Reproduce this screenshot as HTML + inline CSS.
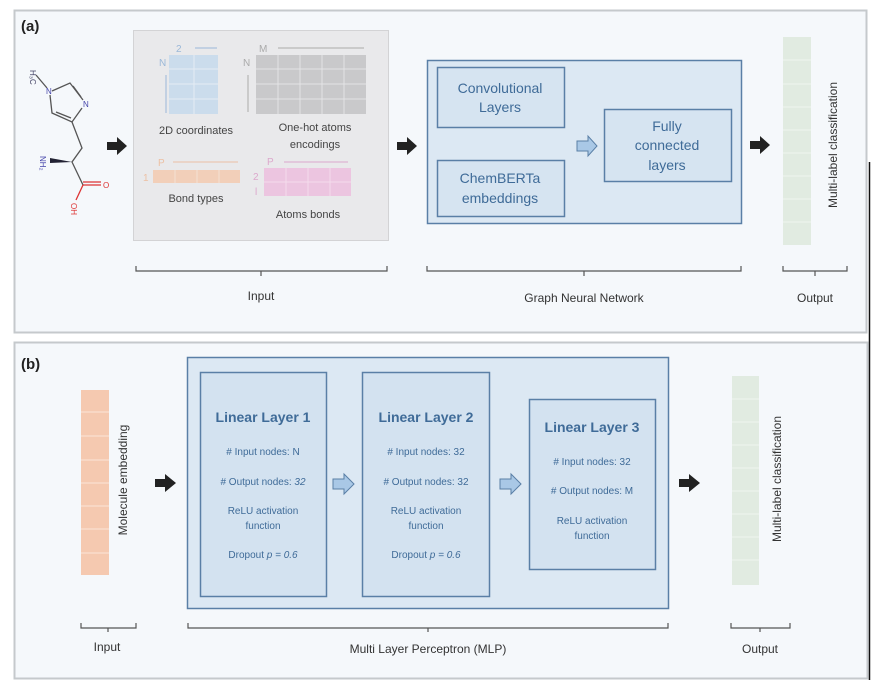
<!DOCTYPE html>
<html><head><meta charset="utf-8"><style>
body{margin:0;background:#fff;}
svg{display:block;font-family:"Liberation Sans",sans-serif;}
</style></head><body>
<svg width="890" height="693" viewBox="0 0 890 693" xmlns="http://www.w3.org/2000/svg">
<!-- panels -->
<rect x="14.5" y="10.5" width="852" height="322" fill="#f5f8fb" stroke="#c5c9cc" stroke-width="2"/>
<rect x="14.5" y="342.5" width="853" height="336" fill="#f5f8fb" stroke="#c5c9cc" stroke-width="2"/>
<line x1="869.5" y1="162" x2="869.5" y2="680" stroke="#111" stroke-width="1.5"/>
<text x="21" y="31" font-size="15" font-weight="bold" fill="#222">(a)</text>
<text x="21" y="369" font-size="15" font-weight="bold" fill="#222">(b)</text>
<!-- molecule -->
<g stroke="#555" stroke-width="1.3" fill="none">
<line x1="36" y1="75" x2="47" y2="88"/>
<polyline points="52,91 70,83 83,100"/>
<line x1="73" y1="86" x2="81" y2="97" />
<polyline points="82,108 72,122 52,113 50,95"/>
<line x1="56" y1="112" x2="71" y2="118"/>
<polyline points="72,122 82,148 72,162 83,185"/>
</g>
<polygon points="72,162 50,158 50,163" fill="#223"/>
<g stroke="#d33" stroke-width="1.3"><line x1="83" y1="185" x2="101" y2="185"/><line x1="83" y1="182" x2="101" y2="182"/><line x1="83" y1="185" x2="76" y2="200"/></g>
<g font-size="8" fill="#446">
<text x="30" y="70" transform="rotate(90 30 70)">H₃C</text>
<text x="46" y="94" fill="#44a">N</text><text x="83" y="107" fill="#44a">N</text>
<text x="40" y="156" transform="rotate(90 40 156)" fill="#44a">NH₂</text>
</g>
<text x="103" y="188" font-size="8" fill="#d33">O</text>
<text x="71" y="203" font-size="8" fill="#d33" transform="rotate(90 71 203)">OH</text>
<!-- input box -->
<rect x="133.5" y="30.5" width="255" height="210" fill="#e9e9eb" stroke="#d3d3d5"/>
<g font-size="11" fill="#444" text-anchor="middle">
<text x="196" y="134">2D coordinates</text>
<text x="315" y="131">One-hot atoms</text><text x="315" y="148">encodings</text>
<text x="196" y="202">Bond types</text>
<text x="308" y="218">Atoms bonds</text>
</g>
<rect x="169" y="55" width="49" height="59" fill="#cbdcec"/>
<g stroke="#e4ecf4" stroke-width="1"><line x1="194" y1="55" x2="194" y2="114"/><line x1="169" y1="69" x2="218" y2="69"/><line x1="169" y1="84" x2="218" y2="84"/><line x1="169" y1="99" x2="218" y2="99"/></g>
<text x="176" y="52" font-size="10" fill="#9bb8d8">2</text><line x1="195" y1="48" x2="217" y2="48" stroke="#9bb8d8"/>
<text x="159" y="66" font-size="10" fill="#9bb8d8">N</text><line x1="166" y1="75" x2="166" y2="113" stroke="#9bb8d8"/>
<rect x="256" y="55" width="110" height="59" fill="#c9c9cb"/>
<g stroke="#e4e4e6"><line x1="278" y1="55" x2="278" y2="114"/><line x1="300" y1="55" x2="300" y2="114"/><line x1="322" y1="55" x2="322" y2="114"/><line x1="344" y1="55" x2="344" y2="114"/><line x1="256" y1="69" x2="366" y2="69"/><line x1="256" y1="84" x2="366" y2="84"/><line x1="256" y1="99" x2="366" y2="99"/></g>
<text x="259" y="52" font-size="10" fill="#aaa">M</text><line x1="278" y1="48" x2="364" y2="48" stroke="#aaa"/>
<text x="243" y="66" font-size="10" fill="#aaa">N</text><line x1="248" y1="75" x2="248" y2="112" stroke="#aaa"/>
<rect x="153" y="170" width="87" height="13" fill="#f2cfb9"/>
<g stroke="#f4e0d3"><line x1="175" y1="170" x2="175" y2="183"/><line x1="197" y1="170" x2="197" y2="183"/><line x1="219" y1="170" x2="219" y2="183"/></g>
<text x="158" y="166" font-size="10" fill="#ecc0a4">P</text><line x1="173" y1="162" x2="238" y2="162" stroke="#ecc0a4"/>
<text x="143" y="181" font-size="10" fill="#ecc0a4">1</text>
<rect x="264" y="168" width="87" height="28" fill="#ecc5e0"/>
<g stroke="#f4dcec"><line x1="286" y1="168" x2="286" y2="196"/><line x1="308" y1="168" x2="308" y2="196"/><line x1="330" y1="168" x2="330" y2="196"/><line x1="264" y1="182" x2="351" y2="182"/></g>
<text x="267" y="165" font-size="10" fill="#dca8cc">P</text><line x1="284" y1="162" x2="348" y2="162" stroke="#dca8cc"/>
<text x="253" y="180" font-size="10" fill="#dca8cc">2</text><text x="255" y="195" font-size="10" fill="#dca8cc">l</text>
<!-- GNN -->
<rect x="427.5" y="60.5" width="314" height="163" fill="#dce8f3" stroke="#5a7fa6" stroke-width="1.5"/>
<rect x="437.5" y="67.5" width="127" height="60" fill="#d6e4f1" stroke="#5a7fa6" stroke-width="1.5"/>
<rect x="437.5" y="160.5" width="127" height="56" fill="#d6e4f1" stroke="#5a7fa6" stroke-width="1.5"/>
<rect x="604.5" y="109.5" width="127" height="72" fill="#d6e4f1" stroke="#5a7fa6" stroke-width="1.5"/>
<g font-size="14" fill="#3f6b98" text-anchor="middle">
<text x="500" y="93">Convolutional</text><text x="500" y="112">Layers</text>
<text x="500" y="183">ChemBERTa</text><text x="500" y="203">embeddings</text>
<text x="667" y="131">Fully</text><text x="667" y="150">connected</text><text x="667" y="170">layers</text>
</g>
<!-- output a -->
<rect x="783" y="37" width="28" height="208" fill="#e1ebe1"/>
<g stroke="#f0f5f0"><line x1="783" y1="60" x2="811" y2="60"/><line x1="783" y1="84" x2="811" y2="84"/><line x1="783" y1="107" x2="811" y2="107"/><line x1="783" y1="130" x2="811" y2="130"/><line x1="783" y1="153" x2="811" y2="153"/><line x1="783" y1="176" x2="811" y2="176"/><line x1="783" y1="199" x2="811" y2="199"/><line x1="783" y1="222" x2="811" y2="222"/></g>
<text x="837" y="145" font-size="12" fill="#333" text-anchor="middle" transform="rotate(-90 837 145)">Multi-label classification</text>
<!-- panel b content -->
<rect x="81" y="390" width="28" height="185" fill="#f5c9b0"/>
<g stroke="#fbe5d8"><line x1="81" y1="412" x2="109" y2="412"/><line x1="81" y1="436" x2="109" y2="436"/><line x1="81" y1="460" x2="109" y2="460"/><line x1="81" y1="483" x2="109" y2="483"/><line x1="81" y1="506" x2="109" y2="506"/><line x1="81" y1="529" x2="109" y2="529"/><line x1="81" y1="553" x2="109" y2="553"/></g>
<text x="127" y="480" font-size="12" fill="#333" text-anchor="middle" transform="rotate(-90 127 480)">Molecule embedding</text>
<rect x="187.5" y="357.5" width="481" height="251" fill="#dce8f3" stroke="#5a7fa6" stroke-width="1.5"/>
<rect x="200.5" y="372.5" width="126" height="224" fill="#d3e2f0" stroke="#5a7fa6" stroke-width="1.5"/>
<rect x="362.5" y="372.5" width="127" height="224" fill="#d3e2f0" stroke="#5a7fa6" stroke-width="1.5"/>
<rect x="529.5" y="399.5" width="126" height="170" fill="#d3e2f0" stroke="#5a7fa6" stroke-width="1.5"/>
<g fill="#3f6b98" text-anchor="middle">
<g font-size="14" font-weight="bold"><text x="263" y="422">Linear Layer 1</text><text x="426" y="422">Linear Layer 2</text><text x="592" y="432">Linear Layer 3</text></g>
<g font-size="10">
<text x="263" y="455"># Input nodes: N</text><text x="263" y="485"># Output nodes: <tspan font-style="italic">32</tspan></text>
<text x="263" y="514">ReLU activation</text><text x="263" y="529">function</text>
<text x="263" y="558">Dropout <tspan font-style="italic">p = 0.6</tspan></text>
<text x="426" y="455"># Input nodes: 32</text><text x="426" y="485"># Output nodes: 32</text>
<text x="426" y="514">ReLU activation</text><text x="426" y="529">function</text>
<text x="426" y="558">Dropout <tspan font-style="italic">p = 0.6</tspan></text>
<text x="592" y="465"># Input nodes: 32</text><text x="592" y="494"># Output nodes: M</text>
<text x="592" y="524">ReLU activation</text><text x="592" y="539">function</text>
</g></g>
<rect x="732" y="376" width="27" height="209" fill="#e1ebe1"/>
<g stroke="#f0f5f0"><line x1="732" y1="399" x2="759" y2="399"/><line x1="732" y1="422" x2="759" y2="422"/><line x1="732" y1="445" x2="759" y2="445"/><line x1="732" y1="468" x2="759" y2="468"/><line x1="732" y1="491" x2="759" y2="491"/><line x1="732" y1="514" x2="759" y2="514"/><line x1="732" y1="537" x2="759" y2="537"/><line x1="732" y1="560" x2="759" y2="560"/></g>
<text x="781" y="479" font-size="12" fill="#333" text-anchor="middle" transform="rotate(-90 781 479)">Multi-label classification</text>
<!-- arrows -->
<g fill="#222">
<polygon points="107,142 117,142 117,137 127,146 117,155 117,150 107,150"/>
<polygon points="397,142 407,142 407,137 417,146 407,155 407,150 397,150"/>
<polygon points="750,141 760,141 760,136 770,145 760,154 760,149 750,149"/>
<polygon points="155,479 165,479 165,474 176,483 165,492 165,487 155,487"/>
<polygon points="679,479 689,479 689,474 700,483 689,492 689,487 679,487"/>
</g>
<g fill="#a9c8e6" stroke="#5a7fa6" stroke-width="1">
<polygon points="577,141 588,141 588,136 597,146 588,156 588,151 577,151"/>
<polygon points="333,479 344,479 344,474 354,484 344,494 344,489 333,489"/>
<polygon points="500,479 511,479 511,474 521,484 511,494 511,489 500,489"/>
</g>
<!-- brackets -->
<g stroke="#555" stroke-width="1.2" fill="none">
<path d="M136,266 V271 H387 V266 M261,271 V276"/>
<path d="M427,266 V271 H741 V266 M584,271 V276"/>
<path d="M783,266 V271 H847 V266 M815,271 V276"/>
<path d="M81,623 V628 H136 V623 M108,628 V632"/>
<path d="M188,623 V628 H668 V623 M428,628 V632"/>
<path d="M731,623 V628 H790 V623 M760,628 V632"/>
</g>
<g font-size="12" fill="#333" text-anchor="middle">
<text x="261" y="300">Input</text><text x="584" y="302">Graph Neural Network</text><text x="815" y="302">Output</text>
<text x="107" y="651">Input</text><text x="428" y="653">Multi Layer Perceptron (MLP)</text><text x="760" y="653">Output</text>
</g>
</svg>
</body></html>
